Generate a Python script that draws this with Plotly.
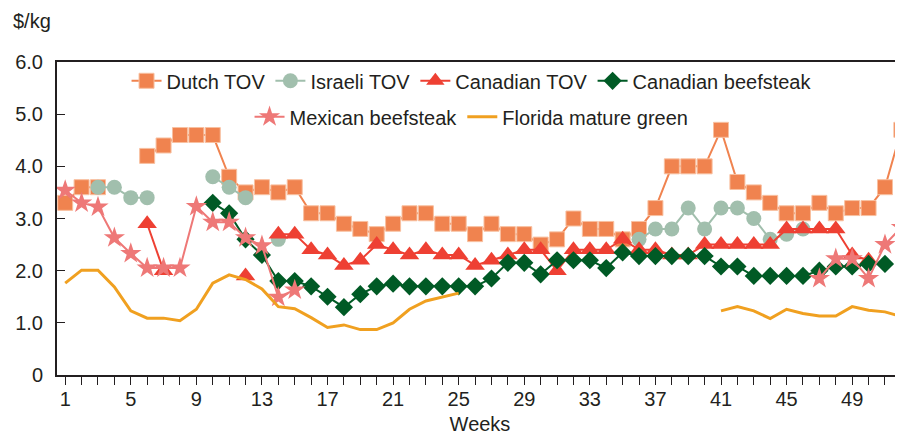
import plotly.graph_objects as go

weeks = list(range(1, 53))
N = None

dutch_tov = [3.3, 3.6, 3.6, N, N, 4.2, 4.4, 4.6, 4.6, 4.6,
             3.8, 3.5, 3.6, 3.5, 3.6, 3.1, 3.1, 2.9, 2.8, 2.7,
             2.9, 3.1, 3.1, 2.9, 2.9, 2.7, 2.9, 2.7, 2.7, 2.5,
             2.6, 3.0, 2.8, 2.8, 2.6, 2.8, 3.2, 4.0, 4.0, 4.0,
             4.7, 3.7, 3.5, 3.3, 3.1, 3.1, 3.3, 3.1, 3.2, 3.2,
             3.6, 4.7]

israeli_tov = [N, N, 3.6, 3.6, 3.4, 3.4, N, N, N, 3.8,
               3.6, 3.4, N, 2.6, N, N, N, N, N, N,
               N, N, N, N, N, N, N, N, N, N,
               N, N, N, N, N, 2.6, 2.8, 2.8, 3.2, 2.8,
               3.2, 3.2, 3.0, 2.6, 2.7, 2.8, N, N, N, N,
               N, N]

canadian_tov = [N, N, N, N, N, 2.9, 2.0, N, N, N,
                N, 1.9, N, 2.7, 2.7, 2.4, 2.3, 2.1, 2.2, 2.5,
                2.4, 2.3, 2.4, 2.3, 2.3, 2.1, 2.2, 2.3, 2.4, 2.4,
                2.0, 2.4, 2.4, 2.4, 2.6, 2.4, 2.4, 2.3, 2.3, 2.5,
                2.5, 2.5, 2.5, 2.5, 2.8, 2.8, 2.8, 2.8, 2.3, 2.2,
                N, N]

canadian_beefsteak = [N, N, N, N, N, N, N, N, N, 3.3,
                      3.1, 2.6, 2.3, 1.8, 1.8, 1.7, 1.5, 1.3, 1.55, 1.7,
                      1.75, 1.7, 1.7, 1.7, 1.7, 1.7, 1.85, 2.15, 2.15, 1.93,
                      2.2, 2.2, 2.2, 2.05, 2.35, 2.28, 2.28, 2.28, 2.28, 2.28,
                      2.08, 2.08, 1.9, 1.9, 1.9, 1.9, 2.0, 2.08, 2.08, 2.13,
                      2.13, N]

mexican_beefsteak = [3.54, 3.3, 3.22, 2.63, 2.33, 2.05, 2.05, 2.05, 3.23, 2.93,
                     2.93, 2.63, 2.48, 1.49, 1.63, N, N, N, N, N,
                     N, N, N, N, N, N, N, N, N, N,
                     N, N, N, N, N, N, N, N, N, N,
                     N, N, N, N, N, N, 1.85, 2.23, 2.23, 1.85,
                     2.5, 2.83]

florida_mature_green = [1.76, 2.01, 2.01, 1.69, 1.23, 1.09, 1.09, 1.04, 1.26, 1.76,
                        1.92, 1.83, 1.65, 1.31, 1.27, 1.1, 0.91, 0.96, 0.87, 0.87,
                        1.0, 1.26, 1.42, 1.49, 1.57, N, N, N, N, N,
                        N, N, N, N, N, N, N, N, N, N,
                        1.23, 1.31, 1.23, 1.08, 1.26, 1.18, 1.13, 1.13, 1.31, 1.24,
                        1.21, 1.12]

x_tick_labels = [str(w) if (w - 1) % 4 == 0 else "" for w in weeks]
y_tick_vals = [0, 1, 2, 3, 4, 5, 6]
y_tick_labels = ["0", "1.0", "2.0", "3.0", "4.0", "5.0", "6.0"]

FONT = "Liberation Sans, Arial, sans-serif"
TXT = "#231F20"

fig = go.Figure()

def add(name, y, color, symbol, size, lw, legend, mline=None):
    marker = dict(color=color, symbol=symbol, size=size)
    if mline:
        marker["line"] = mline
    fig.add_trace(go.Scatter(
        x=weeks, y=y, name=name, mode="lines+markers",
        line=dict(color=color, width=lw),
        marker=marker, legend=legend,
    ))

add("Dutch TOV", dutch_tov, "#F0834F", "square", 15, 2, "legend",
    mline=dict(color="#F8C0A0", width=1))
add("Israeli TOV", israeli_tov, "#A1BFAD", "circle", 15, 2, "legend")
add("Canadian TOV", canadian_tov, "#EE4033", "triangle-up", 17, 2, "legend")
add("Canadian beefsteak", canadian_beefsteak, "#005A25", "diamond", 14, 2, "legend")
add("Mexican beefsteak", mexican_beefsteak, "#EE7877", "star", 16, 2, "legend2")
fig.add_trace(go.Scatter(
    x=weeks, y=florida_mature_green, name="Florida mature green", mode="lines",
    line=dict(color="#F0A020", width=3), legend="legend2",
))

fig.update_layout(
    width=895, height=428,
    margin=dict(l=49, r=0, t=54, b=61),
    paper_bgcolor="white", plot_bgcolor="white",
    font=dict(family=FONT, size=20, color=TXT),
    legend=dict(orientation="h", x=0.49, xanchor="center", y=0.94, yanchor="middle",
                bgcolor="rgba(0,0,0,0)", font=dict(size=20, color=TXT),
                itemwidth=30, tracegroupgap=0),
    legend2=dict(orientation="h", x=0.49, xanchor="center", y=0.825, yanchor="middle",
                 bgcolor="rgba(0,0,0,0)", font=dict(size=20, color=TXT),
                 itemwidth=30),
    annotations=[dict(text="$/kg", xref="paper", yref="paper", x=-0.054, y=1.13,
                      xanchor="left", yanchor="middle", showarrow=False,
                      font=dict(size=20, color=TXT))],
)

fig.update_xaxes(
    range=[0.5, 52.1], tickmode="array", tickvals=weeks, ticktext=x_tick_labels,
    ticks="outside", ticklen=8, tickwidth=1, tickcolor=TXT,
    showline=True, linecolor=TXT, linewidth=2, mirror=True,
    showgrid=False, zeroline=False, automargin=False,
    title=dict(text="Weeks", standoff=8, font=dict(size=20, color=TXT)),
    tickfont=dict(size=20, color=TXT), ticklabelstandoff=-3,
)
fig.update_yaxes(
    range=[0, 6], tickmode="array", tickvals=y_tick_vals, ticktext=y_tick_labels,
    ticks="inside", ticklen=8, tickwidth=1, tickcolor=TXT,
    showline=True, linecolor=TXT, linewidth=2, automargin=False,
    showgrid=False, zeroline=False, ticklabelstandoff=8,
    tickfont=dict(size=20, color=TXT),
)

fig.write_html("out.html")
